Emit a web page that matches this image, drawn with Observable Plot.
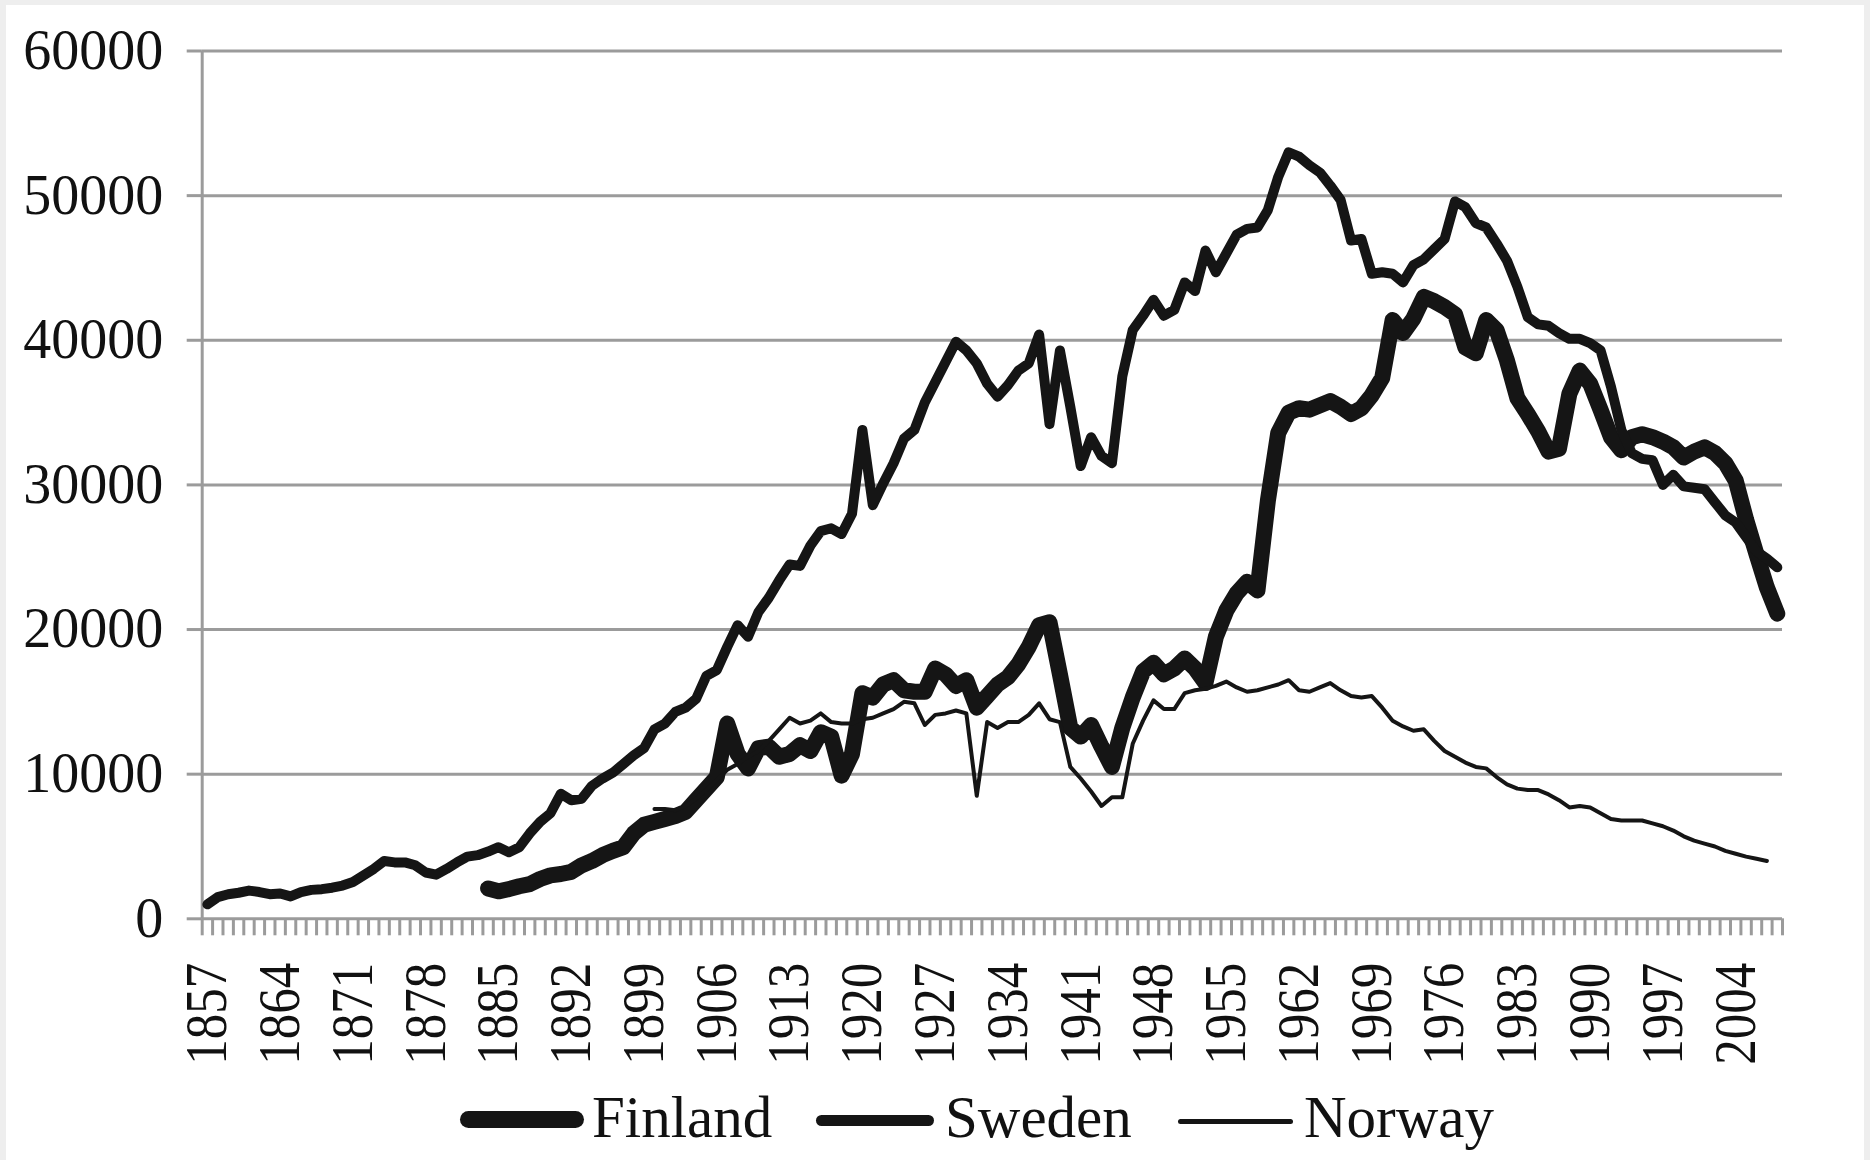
<!DOCTYPE html>
<html>
<head>
<meta charset="utf-8">
<script src="https://cdn.jsdelivr.net/npm/d3@7"></script>
<script src="https://cdn.jsdelivr.net/npm/@observablehq/plot@0.6"></script>
<style>
  html, body { margin: 0; padding: 0; background: #eeeeee; }
  #page { position: relative; width: 1870px; height: 1160px; overflow: hidden; }
  #panel { position: absolute; left: 6px; top: 5px; width: 1858px; height: 1155px; background: #ffffff; }
  #chart { position: absolute; left: 0; top: 0; }
  #legend { position: absolute; left: 0; top: 0; width: 1870px; height: 1160px; pointer-events: none; }
  .sw { position: absolute; background: #151515; }
  .lt { position: absolute; font-family: "Liberation Serif", "Times New Roman", serif; font-size: 59px; line-height: 59px; color: #111; white-space: nowrap; }
</style>
</head>
<body>
<div id="page">
  <div id="panel"></div>
  <div id="chart"></div>
  <div id="legend"></div>
</div>
<script>
// ---- data ----
const seriesNames = ["Finland", "Sweden", "Norway"];

const swedenStart = 1857;
const sweden = [
  1000, 1500, 1700,
  1800, 1950, 1850, 1700, 1750, 1550, 1850, 2000, 2050, 2150,
  2300, 2550, 3000, 3450, 4000, 3900, 3900, 3700, 3200, 3050,
  3450, 3900, 4300, 4400, 4650, 4950, 4600, 4950, 5900, 6700,
  7300, 8650, 8200, 8300, 9200, 9700, 10100, 10700, 11300, 11800,
  13100, 13500, 14300, 14600, 15200, 16800, 17200, 18800, 20300, 19500,
  21200, 22200, 23400, 24500, 24400, 25800, 26800, 27000, 26600, 28000,
  33800, 28600, 30100, 31500, 33200, 33800, 35700, 37100, 38500, 39900,
  39300, 38400, 37000, 36100, 36900, 37900, 38400, 40400, 34200, 39300,
  35400, 31300, 33300, 32000, 31500, 37500, 40700, 41700, 42800, 41700,
  42100, 44000, 43400, 46200, 44700, 46000, 47300, 47700, 47800, 49000,
  51300, 53000, 52700, 52100, 51600, 50700, 49700, 46900, 47000, 44600,
  44700, 44600, 44000, 45200, 45600, 46300, 47000, 49600, 49200, 48100,
  47800, 46700, 45500, 43700, 41600, 41100, 41000, 40500, 40100, 40100,
  39800, 39300, 36800, 33800, 32200, 31800, 31700, 30000, 30700, 29900,
  29800, 29700, 28800, 27900, 27400, 26400, 25400, 24900, 24300
];

const finlandStart = 1884;
const finland = [
  2100, 1900, 2050, 2250, 2400, 2750,
  3000, 3100, 3250, 3700, 4000, 4400, 4700, 4950, 5900, 6500,
  6700, 6900, 7100, 7400, 8200, 9000, 9800, 13500, 11400, 10400,
  11800, 11900, 11200, 11400, 12000, 11600, 12900, 12600, 9900, 11400,
  15600, 15300, 16200, 16500, 15800, 15700, 15700, 17300, 16900, 16100,
  16500, 14600, 15400, 16200, 16700, 17600, 18800, 20300, 20500, 16900,
  13200, 12600, 13400, 11900, 10500, 13200, 15300, 17100, 17700, 16900,
  17300, 18000, 17300, 16300, 19500, 21300, 22500, 23300, 22700, 28900,
  33600, 35000, 35300, 35200, 35500, 35800, 35400, 34900, 35300, 36200,
  37400, 41400, 40500, 41500, 43000, 42700, 42300, 41800, 39500, 39100,
  41400, 40700, 38600, 36000, 34900, 33700, 32300, 32500, 36300, 37900,
  37000, 35200, 33300, 32400, 33300, 33500, 33300, 33000, 32600, 31900,
  32300, 32600, 32200, 31500, 30300, 27600, 25200, 22900, 21100
];

const norwayStart = 1900;
const norway = [
  7600, 7600, 7500, 7800, 8300, 8900, 9600, 10300, 10700, 11200,
  11600, 12300, 13100, 13900, 13500, 13700, 14200, 13600, 13500, 13500,
  13800, 13900, 14200, 14500, 15000, 14900, 13400, 14100, 14200, 14400,
  14200, 8500, 13600, 13200, 13600, 13600, 14100, 14900, 13800, 13600,
  10500, 9700, 8800, 7800, 8400, 8400, 12100, 13700, 15100, 14500,
  14500, 15600, 15800, 15900, 16100, 16400, 16000, 15700, 15800, 16000,
  16200, 16500, 15800, 15700, 16000, 16300, 15800, 15400, 15300, 15400,
  14600, 13700, 13300, 13000, 13100, 12300, 11600, 11200, 10800, 10500,
  10400, 9800, 9300, 9000, 8900, 8900, 8600, 8200, 7700, 7800,
  7700, 7300, 6900, 6800, 6800, 6800, 6600, 6400, 6100, 5700,
  5400, 5200, 5000, 4700, 4500, 4300, 4150, 4000
];

const firstYear = 1857;
const lastYear = 2008;
const labelYears = [1857, 1864, 1871, 1878, 1885, 1892, 1899, 1906, 1913, 1920, 1927,
                    1934, 1941, 1948, 1955, 1962, 1969, 1976, 1983, 1990, 1997, 2004];
const yTicks = [0, 10000, 20000, 30000, 40000, 50000, 60000];

// ---- build tables ----
function toRows(start, values, name) {
  return values.map((v, i) => ({year: start + i, value: v, country: name}));
}
const finlandRows = toRows(finlandStart, finland, seriesNames[0]);
const swedenRows = toRows(swedenStart, sweden, seriesNames[1]);
const norwayRows = toRows(norwayStart, norway, seriesNames[2]);

// category boundaries (one tick mark per year, between categories)
const x0 = firstYear - 0.5, x1 = lastYear + 0.5;
const yearEdges = d3.range(firstYear - 0.5, lastYear + 1, 1);

// ---- styles ----
const grid = "#9b9b9b";
const ink = "#151515";
const widths = {Finland: 16, Sweden: 10, Norway: 4};

const W = 1870, H = 1075;
const chart = Plot.plot({
  width: W,
  height: H,
  marginLeft: 201.7,
  marginRight: 88,
  marginTop: 50.5,
  marginBottom: H - 918.3,
  style: {background: "transparent", fontFamily: "'Liberation Serif', 'Times New Roman', serif", color: "#111", overflow: "visible"},
  x: {domain: [x0, x1]},
  y: {domain: [0, 60000]},
  marks: [
    Plot.gridY(yTicks.slice(1), {stroke: grid, strokeOpacity: 1, strokeWidth: 3}),
    Plot.axisY(yTicks, {tickSize: 15, tickPadding: 24, stroke: grid, strokeWidth: 3, fill: "#111",
                        fontSize: 56, tickFormat: d => String(d), label: null}),
    Plot.axisX(yearEdges, {tickSize: 17, tickFormat: () => "", stroke: grid, strokeWidth: 3, label: null}),
    Plot.axisX(labelYears, {tickSize: 0, tickPadding: 44, tickRotate: -90, fontSize: 59, fill: "#111",
                            tickFormat: d => String(d), label: null}),
    Plot.ruleX([x0], {stroke: grid, strokeWidth: 3}),
    Plot.ruleY([0], {stroke: grid, strokeWidth: 3}),
    Plot.line(finlandRows, {x: "year", y: "value", stroke: ink, strokeWidth: widths.Finland,
                            strokeLinejoin: "round", strokeLinecap: "round"}),
    Plot.line(swedenRows, {x: "year", y: "value", stroke: ink, strokeWidth: widths.Sweden,
                           strokeLinejoin: "round", strokeLinecap: "round"}),
    Plot.line(norwayRows, {x: "year", y: "value", stroke: ink, strokeWidth: widths.Norway,
                           strokeLinejoin: "round", strokeLinecap: "round"})
  ]
});
document.getElementById("chart").appendChild(chart);

// condense rotated year labels along their reading direction, as in the reference
chart.querySelectorAll('g[aria-label="x-axis tick label"] text').forEach(t => {
  if (t.textContent.trim() === "") return;
  const tr = t.getAttribute("transform");
  if (tr) t.setAttribute("transform", tr + " scale(0.865,1)");
});

// ---- legend (below the plot) ----
const legendLayout = [
  {sw: 460, swW: 124, cy: 1119, th: 17, tx: 592},
  {sw: 816, swW: 118, cy: 1120, th: 11, tx: 945},
  {sw: 1178, swW: 115, cy: 1121, th: 5, tx: 1304}
];
const leg = document.getElementById("legend");
seriesNames.forEach((name, i) => {
  const L = legendLayout[i];
  const s = document.createElement("div");
  s.className = "sw";
  s.style.left = L.sw + "px";
  s.style.width = L.swW + "px";
  s.style.top = (L.cy - L.th / 2) + "px";
  s.style.height = L.th + "px";
  s.style.borderRadius = (L.th / 2) + "px";
  leg.appendChild(s);
  const t = document.createElement("div");
  t.className = "lt";
  t.textContent = name;
  t.style.left = L.tx + "px";
  t.style.top = (1137 - 49.4) + "px";
  leg.appendChild(t);
});
</script>
</body>
</html>
